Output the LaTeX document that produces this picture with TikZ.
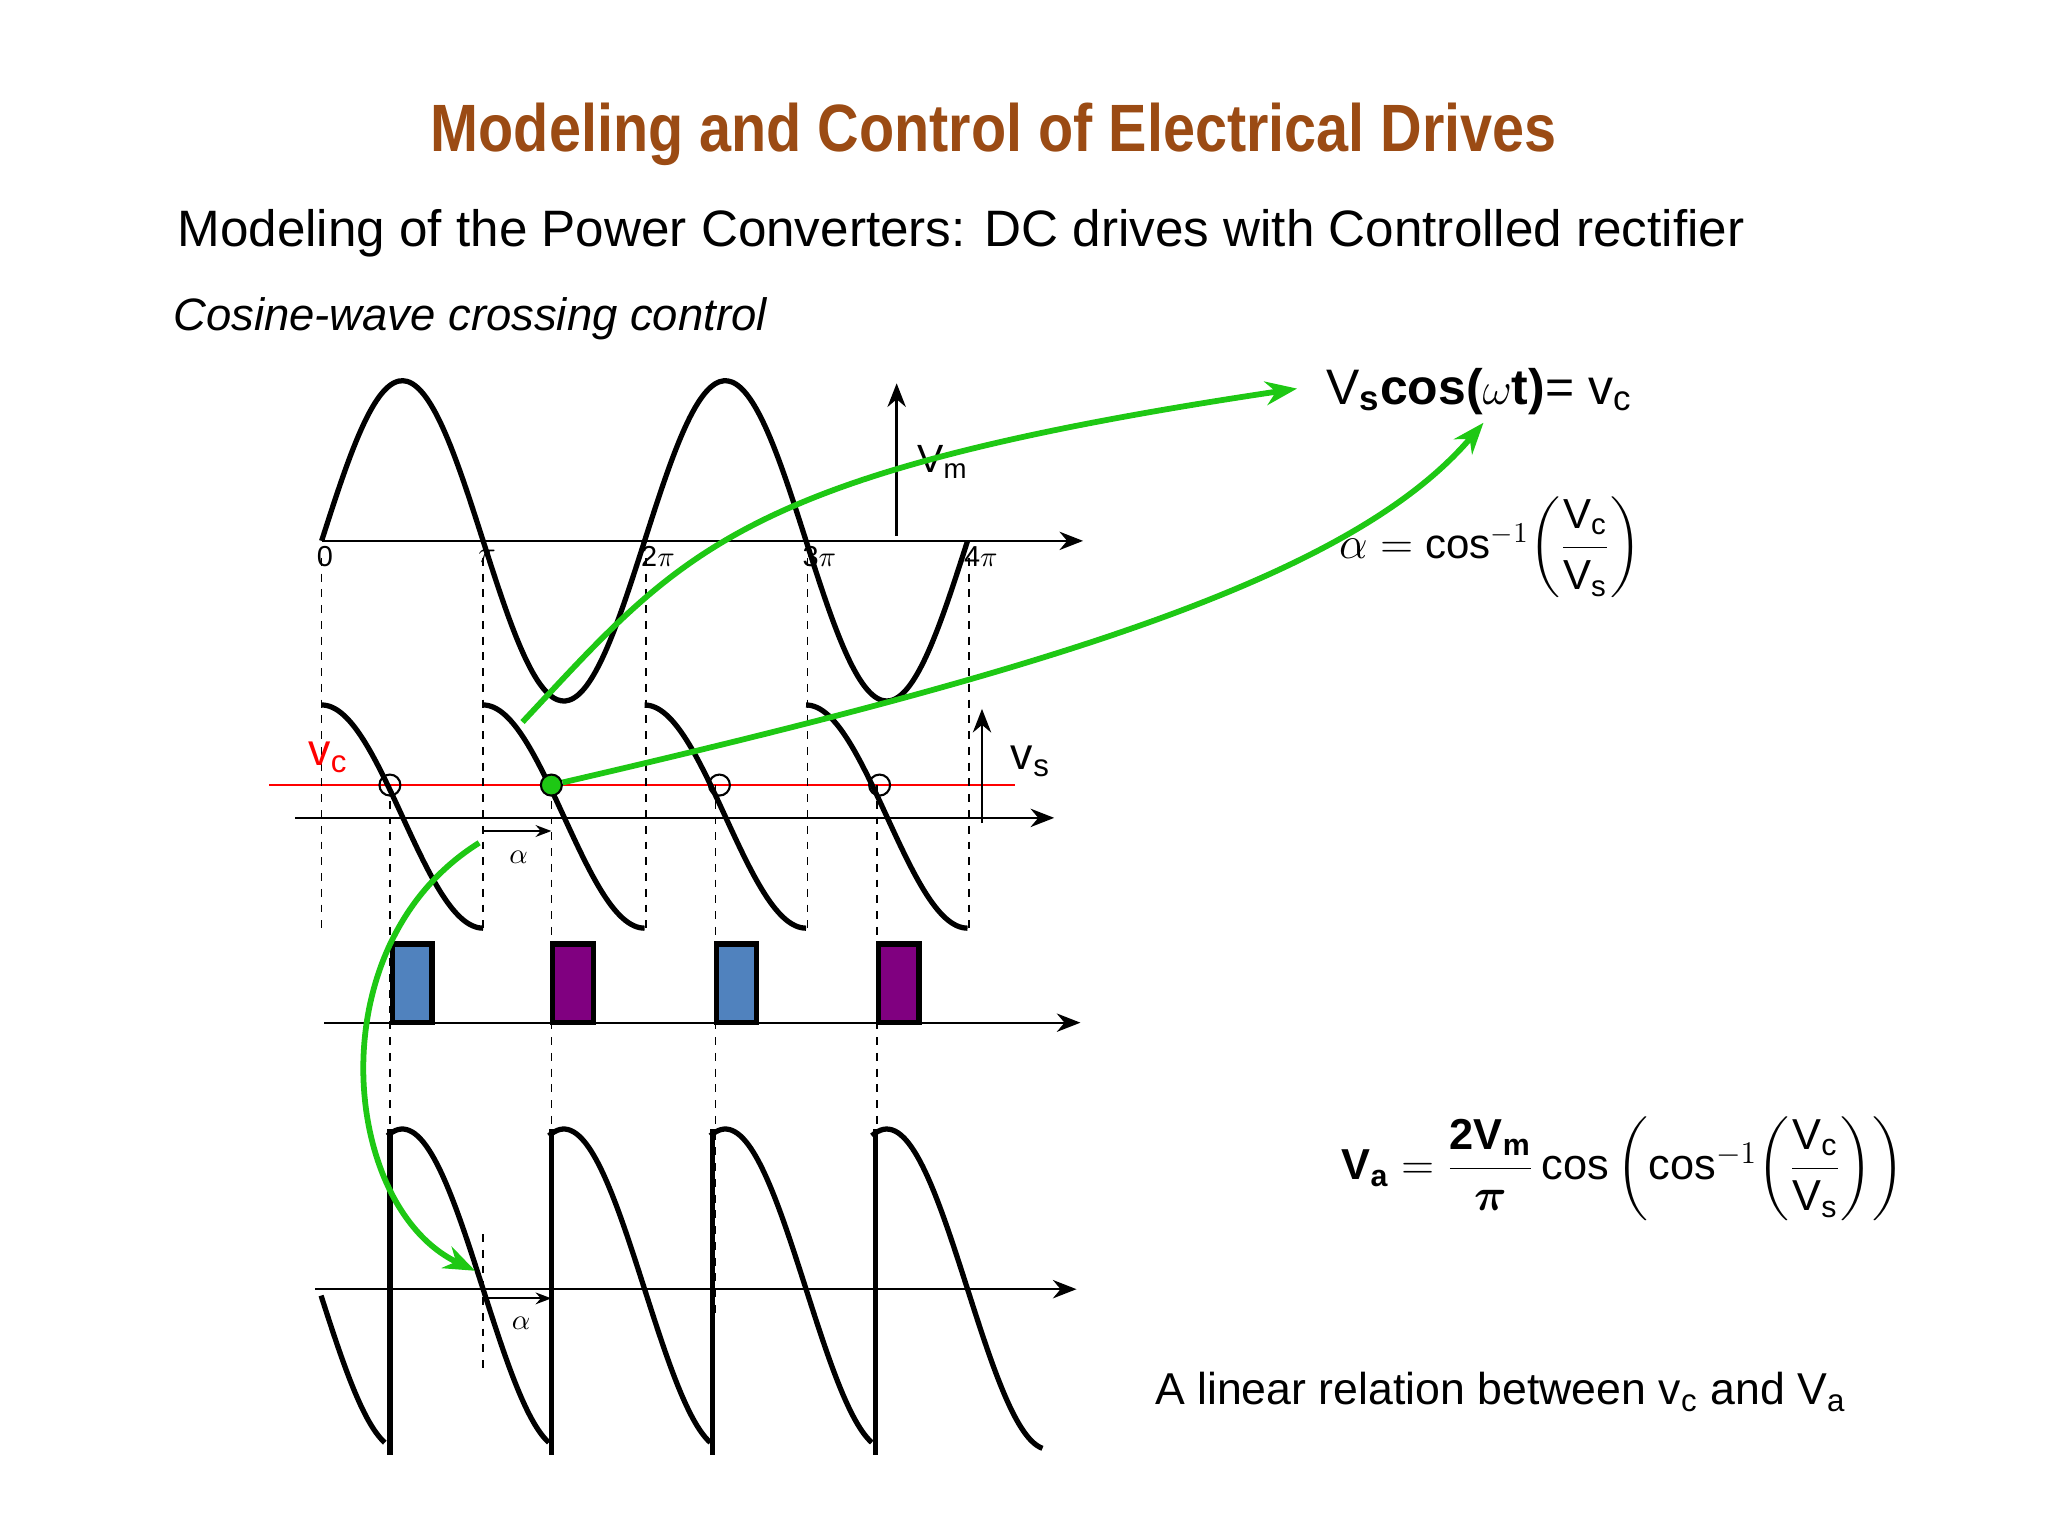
\documentclass[tikz,border=0pt]{standalone}
\usepackage{amsmath,amssymb}
\usepackage{fontspec}
\setmainfont{Liberation Sans}
\usetikzlibrary{arrows.meta}
\definecolor{titlebrown}{RGB}{155,75,20}
\definecolor{gr}{RGB}{30,200,20}
\definecolor{pblue}{RGB}{80,130,190}
\definecolor{ppurple}{RGB}{128,0,128}
\tikzset{
  wave/.style={line width=2pt,black},
  ax/.style={line width=0.9pt,-{Stealth[length=9pt,width=7pt]}},
  dsh/.style={dashed,line width=0.6pt},
  garrow/.style={gr,line width=2.2pt,-{Stealth[length=12pt,width=9pt]}},
  lbl/.style={font=\fontsize{11}{13}\selectfont},
  pulse/.style={draw=black,line width=2pt},
  circ/.style={circle,draw,line width=0.8pt,minimum size=8pt,inner sep=0pt}
}
\begin{document}
\begin{tikzpicture}[x=0.5pt,y=-0.5pt]
\useasboundingbox (0,0) rectangle (1560,1170);
% titles
\node (title) at (757,102) {\fontsize{25.5}{30}\selectfont\bfseries\color{titlebrown}\scalebox{0.86}[1]{Modeling and Control of Electrical Drives}};
\node (sub) at (732,178) {\fontsize{19.5}{23}\selectfont Modeling of the Power Converters: DC drives with Controlled rectifier};
\node (ital) at (358,243) {\fontsize{17.3}{20}\selectfont\itshape Cosine-wave crossing control};
% top sine
\draw[ax] (245,412) -- (825,412);
\draw[wave] plot[domain=0:12.566,samples=160,smooth] ({245+\x*123/pi},{412-122*sin(\x r)});
\draw[ax] (683,408) -- (683,292);
\node[lbl,font=\fontsize{15}{18}\selectfont] (vm) at (718,352) {V\textsubscript{m}};
\foreach \xx/\t in {245/0,368/$\pi$,492/2$\pi$,615/3$\pi$,738/4$\pi$}
  \node[lbl,anchor=west,inner sep=1pt] at (\xx-6,424) {\t};
% middle
\draw[red,line width=0.8pt] (205,598) -- (773,598);
\draw[ax] (225,623) -- (803,623);
\foreach \k in {0,1,2,3}
  \draw[wave] plot[domain=0:3.1416,samples=60,smooth] ({245+123*\k+\x*123/pi},{622-85*cos(\x r)});
\foreach \xx in {245,368,492,615,738}
  \draw[dsh] (\xx,425) -- (\xx,707);
\foreach \xx in {297,420,545,668}
  \draw[dsh] (\xx,598) -- (\xx,1000);
\node[circ] (c1) at (297,598) {};
\node[circ,fill=gr,draw=black] (c2) at (420,598) {};
\node[circ] (c3) at (548,598) {};
\node[circ] (c4) at (670,598) {};
\draw[ax] (748,627) -- (748,540);
\node (vs) at (785,580) {\fontsize{17}{20}\selectfont v\textsubscript{s}};
\node (vc) at (250,577) {\fontsize{17}{20}\selectfont\color{red} v\textsubscript{c}};
\coordinate (a1) at (368,633); \coordinate (a2) at (420,633);
\draw[line width=0.8pt,-{Stealth[length=6pt]}] (a1) -- (a2);
\node[lbl] at (395,653) {$\alpha$};
% pulses
\draw[ax] (247,779) -- (823,779);
\filldraw[pulse,fill=pblue] (299,719) rectangle (329,779);
\filldraw[pulse,fill=ppurple] (421,719) rectangle (452,779);
\filldraw[pulse,fill=pblue] (546,719) rectangle (576,779);
\filldraw[pulse,fill=ppurple] (669,719) rectangle (700,779);
% bottom
\draw[ax] (240,982) -- (820,982);
\draw[wave] plot[domain=0.04:1.28,samples=30,smooth] ({243+\x*123/pi},{982+122*sin(\x r)});
\foreach \k in {0,1,2}
  \draw[wave] plot[domain=1.28:4.42,samples=60,smooth] ({245+123*\k+\x*123/pi},{982-122*sin(\x r)});
\draw[wave] plot[domain=1.28:4.6,samples=60,smooth] ({245+369+\x*123/pi},{982-122*sin(\x r)});
\foreach \xx in {297,420,543,667}
  \draw[wave] (\xx,1108) -- (\xx,860);
\draw[dsh] (368,940) -- (368,1045);
\coordinate (b1) at (368,989); \coordinate (b2) at (420,989);
\draw[line width=0.8pt,-{Stealth[length=6pt]}] (b1) -- (b2);
\node[lbl] at (397,1008) {$\alpha$};
% formulas
\node[anchor=west] (f1) at (1003,298) {\fontsize{19}{23}\selectfont V\textsubscript{\bfseries s}\textbf{cos(}$\omega$\textbf{t)}= v\textsubscript{c}};
\node[anchor=west] (f2) at (1013,417) {\fontsize{16}{20}\selectfont $\alpha = \text{cos}^{-1}\!\left(\dfrac{\text{V}_{\text{c}}}{\text{V}_{\text{s}}}\right)$};
\node[anchor=west] (f3) at (1015,890) {\fontsize{16.5}{20}\selectfont $\textbf{V}_{\textbf{a}} = \dfrac{\textbf{2V}_{\textbf{m}}}{\boldsymbol{\pi}}\,\text{cos}\left(\text{cos}^{-1}\!\left(\dfrac{\text{V}_{\text{c}}}{\text{V}_{\text{s}}}\right)\right)$};
\node (f4) at (1143,1060) {\fontsize{17}{20}\selectfont A linear relation between v\textsubscript{c} and V\textsubscript{a}};
% green arrows
\coordinate (g1s) at (398,550);
\coordinate (g1e) at (988,296);
\draw[garrow] (g1s) .. controls (520,420) and (560,360) .. (g1e);
\coordinate (g2e) at (1130,322);
\draw[garrow] (c2) .. controls (800,510) and (1030,440) .. (g2e);
\coordinate (g3s) at (365,642);
\coordinate (g3e) at (362,968);
\draw[garrow] (g3s) .. controls (240,720) and (260,920) .. (g3e);
\end{tikzpicture}
\end{document}
